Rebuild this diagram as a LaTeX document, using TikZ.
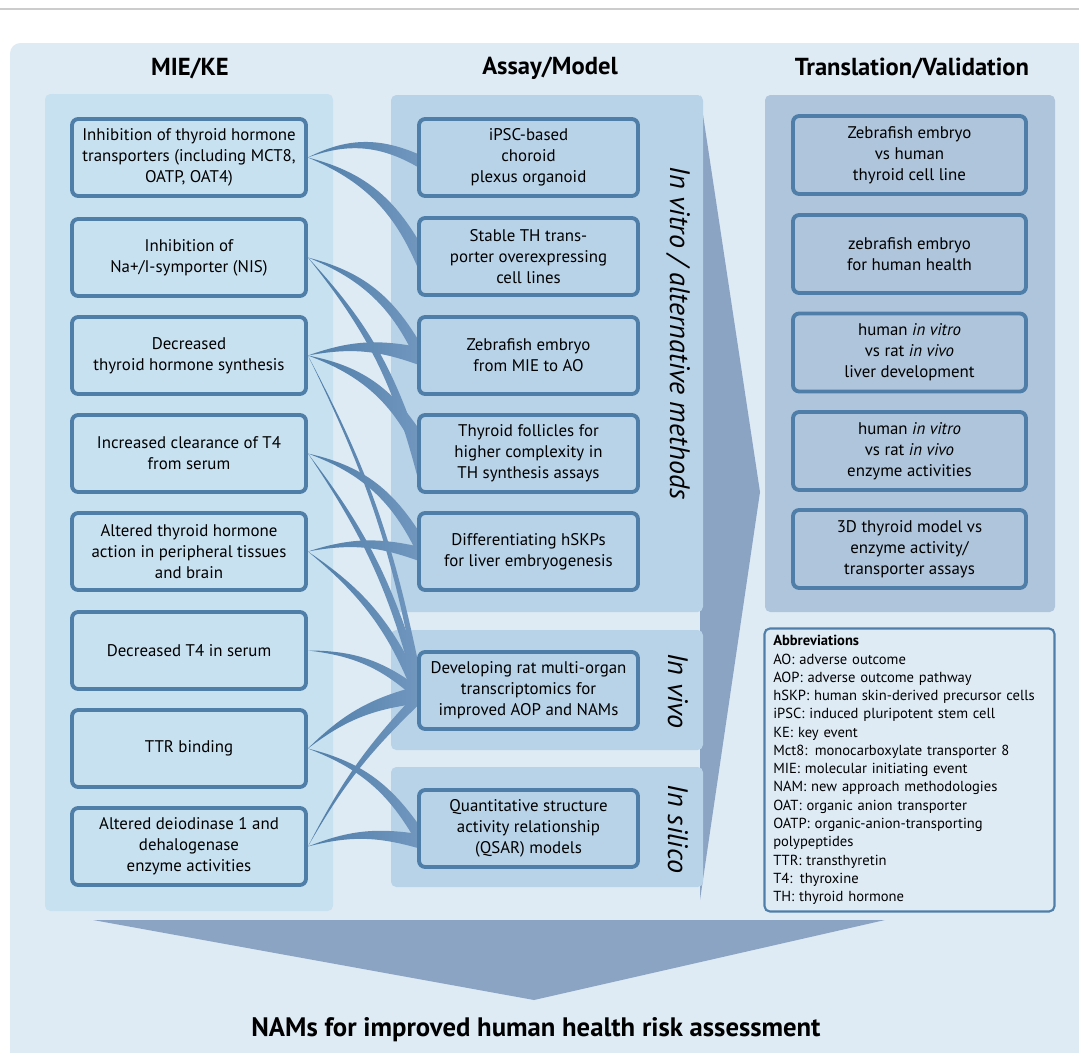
\documentclass[tikz,border=0pt]{standalone}
\usepackage{fontspec}
\setmainfont{PT Sans}

\definecolor{bgouter}{RGB}{222,235,245}
\definecolor{bgleft}{RGB}{200,225,240}
\definecolor{bgmid}{RGB}{184,211,232}
\definecolor{bgright}{RGB}{175,197,219}
\definecolor{boxline}{RGB}{79,127,168}
\definecolor{linkdark}{RGB}{80,126,168}
\definecolor{linklight}{RGB}{112,150,190}
\definecolor{arrowcol}{RGB}{140,164,195}

\pgfdeclarelayer{back}
\pgfdeclarelayer{links}
\pgfsetlayers{back,links,main}

\tikzset{
  kebox/.style={draw=boxline, line width=2.2pt, rounded corners=3.5pt, fill=bgleft,
    minimum width=4.68cm, minimum height=1.54cm, align=center, inner sep=2pt,
    font=\fontsize{9.6}{12}\selectfont},
  assaybox/.style={kebox, fill=bgmid, minimum width=4.38cm},
  valbox/.style={kebox, fill=bgright, minimum width=4.66cm, minimum height=1.56cm},
  coltitle/.style={font=\bfseries\fontsize{14}{16}\selectfont},
  sidelabel/.style={rotate=-90, font=\itshape\fontsize{16}{18}\selectfont},
}

% tapered connector: source, target, shift at target, bend, half width
\newcommand{\linkto}[5]{%
  \shade[left color=linkdark, right color=linklight]
    (#1.east) to[bend left=#4] ([yshift=#3+#5]#2.west)
    -- ([yshift=#3-#5]#2.west) to[bend right=#4] (#1.east);}

\begin{document}
\begin{tikzpicture}[x=0.02cm, y=-0.02cm]
  \useasboundingbox (0,0) rectangle (1079,1052);

  \begin{pgfonlayer}{back}
    \draw[gray!40, line width=1pt] (0,9) -- (1079,9);
    \fill[bgouter, rounded corners=6pt] (10,43) rectangle (1100,1080);
    \fill[arrowcol] (700,95) -- (760,492) -- (700,900) -- cycle;
    \fill[bgleft, rounded corners=3pt] (45,94) rectangle (333,911);
    \fill[bgmid, rounded corners=3pt] (391,95) rectangle (703,612);
    \fill[bgmid, rounded corners=3pt] (391,630) rectangle (703,750);
    \fill[bgmid, rounded corners=3pt] (391,767) rectangle (703,887);
    \fill[bgright, rounded corners=3pt] (765,95) rectangle (1055,612);
    \fill[arrowcol] (93,920) -- (885,920) -- (534,1000) -- cycle;
  \end{pgfonlayer}

  % column headings
  \node[coltitle] (tke) at (190,68) {MIE/KE};
  \node[coltitle] (tassay) at (550,68) {Assay/Model};
  \node[coltitle] (tval) at (912,68) {Translation/Validation};

  % MIE/KE
  \node[kebox] (L1) at (189,157.5) {Inhibition of thyroid hormone\\transporters (including MCT8,\\OATP, OAT4)};
  \node[kebox] (L2) at (189,257.5) {Inhibition of\\Na+/I-symporter (NIS)};
  \node[kebox] (L3) at (189,355.5) {Decreased\\thyroid hormone synthesis};
  \node[kebox] (L4) at (189,453.5) {Increased clearance of T4\\from serum};
  \node[kebox] (L5) at (189,551.5) {Altered thyroid hormone\\action in peripheral tissues\\and brain};
  \node[kebox] (L6) at (189,650.5) {Decreased T4 in serum};
  \node[kebox] (L7) at (189,748.5) {TTR binding};
  \node[kebox] (L8) at (189,846.5) {Altered deiodinase 1 and\\dehalogenase\\enzyme activities};

  % Assay/Model
  \node[assaybox] (M1) at (528.5,157.5) {iPSC-based\\choroid\\plexus organoid};
  \node[assaybox] (M2) at (528.5,256.5) {Stable TH trans-\\porter overexpressing\\cell lines};
  \node[assaybox] (M3) at (528.5,355.5) {Zebrafish embryo\\from MIE to AO};
  \node[assaybox] (M4) at (528.5,453.5) {Thyroid follicles for\\higher complexity in\\TH synthesis assays};
  \node[assaybox] (M5) at (528.5,551.5) {Differentiating hSKPs\\for liver embryogenesis};
  \node[assaybox] (M6) at (528.5,690.5) {Developing rat multi-organ\\transcriptomics for\\improved AOP and NAMs};
  \node[assaybox] (M7) at (528.5,828.5) {Quantitative structure\\activity relationship\\(QSAR) models};

  \node[sidelabel] (vitro) at (678,333) {In vitro / alternative methods};
  \node[sidelabel] (vivo) at (678,691) {In vivo};
  \node[sidelabel] (silico) at (678,829) {In silico};

  % Translation/Validation
  \node[valbox] (V1) at (909.5,155) {Zebrafish embryo\\vs human\\thyroid cell line};
  \node[valbox] (V2) at (909.5,254) {zebrafish embryo\\for human health};
  \node[valbox] (V3) at (909.5,352.5) {human \textit{in vitro}\\vs rat \textit{in vivo}\\liver development};
  \node[valbox] (V4) at (909.5,451) {human \textit{in vitro}\\vs rat \textit{in vivo}\\enzyme activities};
  \node[valbox] (V5) at (909.5,549) {3D thyroid model vs\\enzyme activity/\\transporter assays};

  \node[draw=boxline, line width=1.2pt, rounded corners=3pt, fill=bgouter,
    minimum width=5.8cm, minimum height=5.66cm, text width=5.45cm, align=left,
    font=\fontsize{8.3}{10.4}\selectfont] (abbr) at (909.5,770)
    {\textbf{Abbreviations}\\AO: adverse outcome\\AOP: adverse outcome pathway\\
     hSKP: human skin-derived precursor cells\\iPSC: induced pluripotent stem cell\\
     KE: key event\\Mct8: monocarboxylate transporter 8\\MIE: molecular initiating event\\
     NAM: new approach methodologies\\OAT: organic anion transporter\\
     OATP: organic-anion-transporting\\polypeptides\\TTR: transthyretin\\
     T4: thyroxine\\TH: thyroid hormone};

  \node[font=\bfseries\fontsize{15.2}{17}\selectfont] (nams) at (536,1030) {NAMs for improved human health risk assessment};

  \begin{pgfonlayer}{links}
    \linkto{L1}{M1}{-1.5pt}{25}{3.7pt}
    \linkto{L1}{M2}{2.5pt}{22}{8pt}
    \linkto{L2}{M3}{3pt}{22}{7pt}
    \linkto{L2}{M4}{-2.5pt}{12}{10pt}
    \linkto{L3}{M3}{0pt}{15}{5pt}
    \linkto{L3}{M4}{7.5pt}{22}{8pt}
    \linkto{L3}{M6}{10pt}{8}{9pt}
    \linkto{L4}{M5}{6pt}{22}{7pt}
    \linkto{L4}{M6}{5pt}{10}{10pt}
    \linkto{L5}{M5}{-1pt}{15}{4pt}
    \linkto{L5}{M6}{0pt}{15}{8pt}
    \linkto{L6}{M6}{-1.5pt}{18}{4pt}
    \linkto{L7}{M6}{-2.5pt}{15}{5pt}
    \linkto{L8}{M6}{-5pt}{8}{4pt}
    \linkto{L7}{M7}{-2.5pt}{20}{6pt}
    \linkto{L8}{M7}{-7pt}{15}{4pt}
  \end{pgfonlayer}
\end{tikzpicture}
\end{document}
